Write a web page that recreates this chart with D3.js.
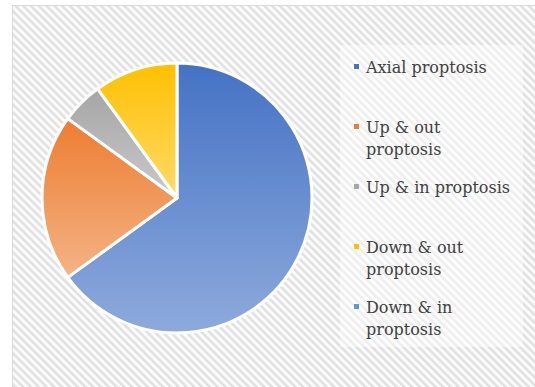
<!DOCTYPE html>
<html>
<head>
<meta charset="utf-8">
<script src="https://cdn.jsdelivr.net/npm/d3@7"></script>
<style>
  html, body { margin: 0; padding: 0; background: #fff; }
  svg { display: block; }
</style>
</head>
<body>
<div id="chart"></div>
<script>
// data (percent of cases)
const categories = ["Axial proptosis", "Up & out proptosis", "Up & in proptosis", "Down & out proptosis", "Down & in proptosis"];
const values = [65, 20, 5, 10, 0];
// legend text as it wraps in the picture
const legendLines = [["Axial proptosis"], ["Up & out", "proptosis"], ["Up & in proptosis"], ["Down & out", "proptosis"], ["Down & in", "proptosis"]];
const topColors = ["#4472c4", "#ed7d31", "#a5a5a5", "#ffc000", "#5b9bd5"];
const bottomColors = ["#8eaadc", "#f4b385", "#cacaca", "#ffda6a", "#9dc3e6"];

const width = 535;
const height = 387;
const radius = 135;
const cx = 177, cy = 198;

const svg = d3.select("#chart")
    .append("svg")
    .attr("width", width)
    .attr("height", height);

const defs = svg.append("defs");

// diagonal stripe background
const pat = defs.append("pattern")
    .attr("id", "stripes")
    .attr("patternUnits", "userSpaceOnUse")
    .attr("width", 5.5)
    .attr("height", 5.5)
    .attr("patternTransform", "rotate(-45)");
pat.append("rect").attr("width", 5.5).attr("height", 5.5).attr("fill", "#fbfbfb");
pat.append("rect").attr("width", 2.5).attr("height", 5.5).attr("fill", "#e0e0e0");

categories.forEach((c, i) => {
  const g = defs.append("linearGradient")
      .attr("id", "grad" + i)
      .attr("x1", 0).attr("y1", 0).attr("x2", 0).attr("y2", 1);
  g.append("stop").attr("offset", "0%").attr("stop-color", topColors[i]);
  g.append("stop").attr("offset", "100%").attr("stop-color", bottomColors[i]);
});

// chart area frame
svg.append("rect")
    .attr("x", 12.5)
    .attr("y", 5.5)
    .attr("width", 540)
    .attr("height", 400)
    .attr("fill", "url(#stripes)")
    .attr("stroke", "#d9d9d9")
    .attr("stroke-width", 1);

// pie
const pie = d3.pie()
    .sort(null)
    .value(d => d.value);

const arc = d3.arc()
    .innerRadius(0)
    .outerRadius(radius);

const data = categories.map((c, i) => ({name: c, value: values[i], idx: i}));

const g = svg.append("g")
    .attr("transform", `translate(${cx},${cy})`);

g.selectAll("path")
    .data(pie(data).filter(d => d.data.value > 0))
    .join("path")
    .attr("d", arc)
    .attr("fill", d => `url(#grad${d.data.idx})`)
    .attr("stroke", "#ffffff")
    .attr("stroke-width", 3)
    .attr("stroke-linejoin", "round");

// legend
svg.append("rect")
    .attr("x", 340)
    .attr("y", 45)
    .attr("width", 183)
    .attr("height", 302)
    .attr("fill", "#ffffff")
    .attr("fill-opacity", 0.45);

const y = d3.scalePoint()
    .domain(categories)
    .range([67, 307]);

const item = svg.append("g")
    .selectAll("g")
    .data(data)
    .join("g")
    .attr("transform", d => `translate(354,${y(d.name)})`);

item.append("rect")
    .attr("x", 0)
    .attr("y", -3)
    .attr("width", 5)
    .attr("height", 5)
    .attr("fill", d => topColors[d.idx]);

item.append("text")
    .attr("x", 12)
    .attr("y", 0)
    .style("font-family", "'DejaVu Serif', serif")
    .style("font-size", "16px")
    .attr("fill", "#404040")
    .selectAll("tspan")
    .data(d => legendLines[d.idx])
    .join("tspan")
    .attr("x", 12)
    .attr("dy", (d, i) => i === 0 ? "0.35em" : "22px")
    .text(d => d);
</script>
</body>
</html>
